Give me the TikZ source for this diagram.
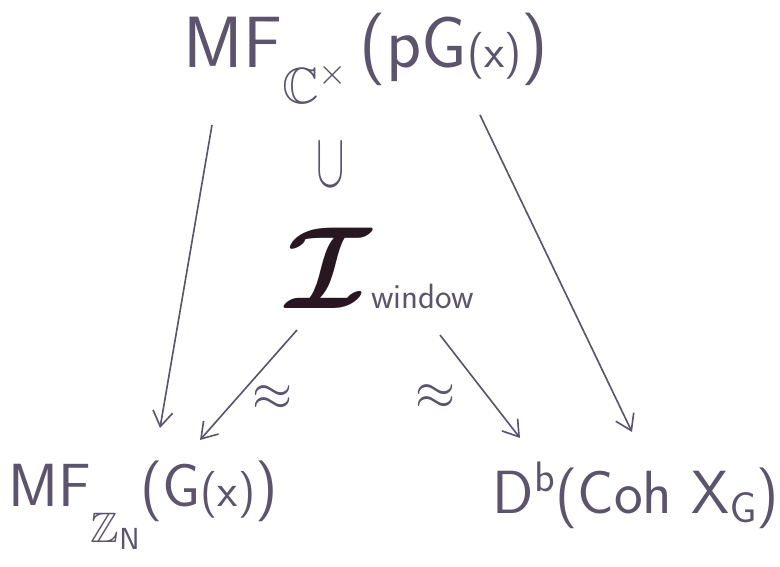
\RequirePackage{fix-cm}
\documentclass[tikz,border=0pt]{standalone}
\usepackage{amssymb,bm}
\DeclareFontFamily{U}{msb}{}
\DeclareFontShape{U}{msb}{m}{n}{<-> msbm10}{}
\usetikzlibrary{arrows.meta,calc}
\definecolor{InkGray}{RGB}{92,84,108}
\definecolor{InkDark}{RGB}{40,22,32}
\tikzset{
  obj/.style={text=InkGray,font=\sffamily\fontsize{62}{68}\selectfont,inner sep=2pt},
  smallobj/.style={obj,font=\sffamily\fontsize{52}{58}\selectfont},
  mapto/.style={-{Straight Barb[length=13pt,width=17pt,line width=1.4pt]},line width=1.4pt,InkGray},
  approx/.style={text=InkGray,font=\fontsize{44}{48}\selectfont,inner sep=1pt}
}
\newcommand{\inner}[1]{{\fontsize{40}{44}\selectfont #1}}
\newcommand{\deepsub}[2]{\raisebox{-#1em}{$\scriptstyle #2$}}

\begin{document}
\begin{tikzpicture}[x=0.03cm,y=-0.03cm]
  \useasboundingbox (0,0) rectangle (780,567);
  % objects
  \node[obj] (top) at (366,58) {MF\deepsub{0.5}{\mathbb{C}^{\times}}\,(pG\inner{(x)})};
  \node[obj,font=\fontsize{66}{70}\selectfont] (cup) at (331,165) {\scalebox{0.55}[1]{$\cup$}};
  \node[obj] (win) at (380,268)
    {\textcolor{InkDark}{\fontsize{100}{100}\selectfont$\bm{\mathcal{I}}$}%
     \fontsize{30}{30}\selectfont window};
  \node[smallobj] (left) at (143,505) {MF\deepsub{0.6}{\mathbb{Z}_{\mathsf{N}}}(G\inner{(x)})};
  \node[smallobj] (right) at (636,495) {D$^{\mathsf{b}}$(Coh X$_{\mathsf{G}}$)};
  % maps
  \draw[mapto] ($(top)+(-154,67)$) -- ($(left)+(17,-77)$);
  \draw[mapto] ($(top)+(114,57)$) -- ($(right)+(-4,-63)$);
  \draw[mapto] ($(win)+(-83,62)$) -- ($(left)+(57,-65)$)
    node[approx,pos=.62,right=12pt] {$\approx$};
  \draw[mapto] ($(win)+(60,67)$) -- ($(right)+(-116,-57)$)
    node[approx,pos=.6,left=26pt] {$\approx$};
\end{tikzpicture}
\end{document}
